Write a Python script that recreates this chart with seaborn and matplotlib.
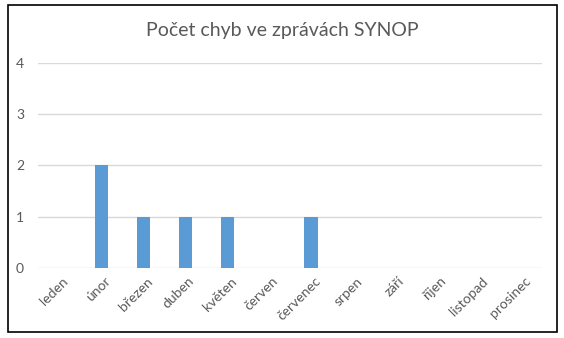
import matplotlib
matplotlib.use("Agg")
import matplotlib.pyplot as plt
import matplotlib.transforms as mtransforms
import seaborn as sns
import pandas as pd
from matplotlib.patches import Rectangle

months = ["leden", "únor", "březen", "duben", "květen", "červen",
          "červenec", "srpen", "září", "říjen", "listopad", "prosinec"]
errors = [0, 2, 1, 1, 1, 0, 1, 0, 0, 0, 0, 0]
yticks = [0, 1, 2, 3, 4]

sns.set_theme(style="white")
plt.rcParams["font.family"] = ["Lato", "DejaVu Sans"]

df = pd.DataFrame({"mesic": months, "chyby": errors})

fig = plt.figure(figsize=(5.64, 3.38), dpi=100)
ax = fig.add_axes([0.0674, 0.207, 0.8936, 0.607])

sns.barplot(data=df, x="mesic", y="chyby", color="#5B9BD5", width=0.31,
            saturation=1, linewidth=0, ax=ax, zorder=3)

ax.set_ylim(0, 4)
ax.set_xlim(-0.5, len(months) - 0.5)
ax.set_yticks(yticks)
ax.set_yticklabels([str(v) for v in yticks], color="#595959", fontsize=10)
ax.yaxis.grid(True, color="#D9D9D9", linewidth=1, zorder=0)
ax.set_xlabel("")
ax.set_ylabel("")
for s in ax.spines.values():
    s.set_visible(False)
ax.tick_params(axis="both", length=0)
ax.tick_params(axis="y", pad=10)
ax.set_xticks(range(len(months)))
ax.set_xticklabels(months, rotation=45, ha="right", rotation_mode="anchor",
                   color="#595959", fontsize=10)
ax.tick_params(axis="x", pad=5)
shift = mtransforms.ScaledTranslation(3 / 100, 0, fig.dpi_scale_trans)
for lbl in ax.get_xticklabels():
    lbl.set_transform(lbl.get_transform() + shift)

fig.text(0.5, 0.91, "Počet chyb ve zprávách SYNOP", ha="center", va="center",
         fontsize=14, color="#595959")

fig.patches.append(Rectangle((8 / 564, 6 / 338), 549 / 564, 327 / 338,
                             transform=fig.transFigure, fill=False,
                             edgecolor="black", linewidth=1.2))

fig.savefig("out.png", dpi=100)
